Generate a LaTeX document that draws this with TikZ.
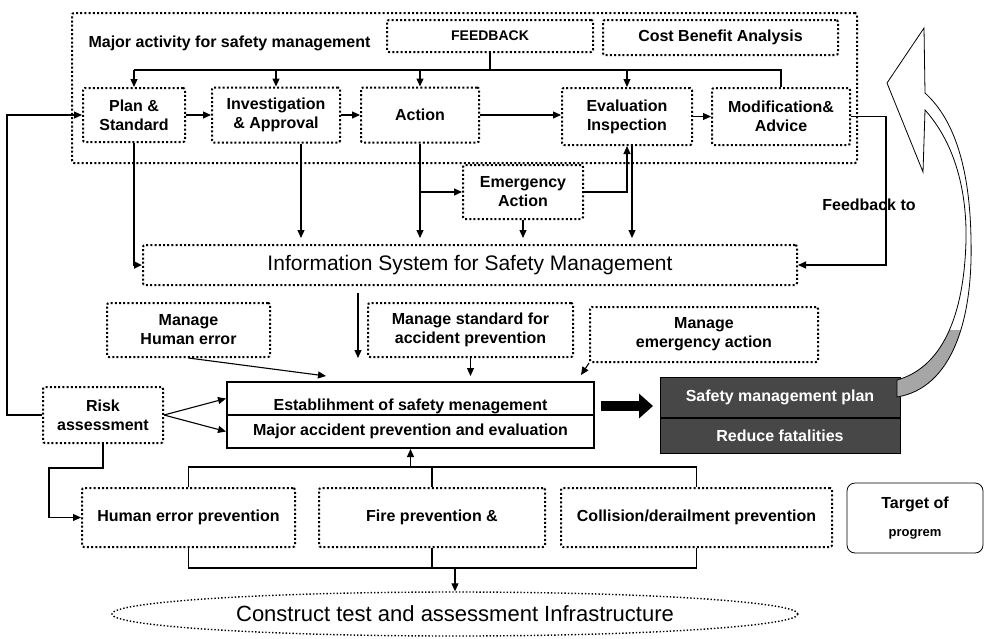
\documentclass[tikz,border=0pt]{standalone}
\usepackage{fontspec}
\setmainfont{Liberation Sans}
\setsansfont{Liberation Sans}
\usetikzlibrary{arrows.meta,positioning,calc,shapes.geometric}
\newcommand{\boxfont}{\fontsize{16}{19}\selectfont\bfseries}
\newcommand{\bigfont}{\fontsize{21}{24}\selectfont}

\begin{document}
\begin{tikzpicture}[x=1pt,y=-1pt,
  dbox/.style={draw,line width=2pt,dash pattern=on 2pt off 2.2pt,rounded corners=2pt,inner sep=0pt,align=center,font=\boxfont},
  cell/.style={draw,line width=2pt,inner sep=0pt,minimum width=367pt,minimum height=33pt,font=\boxfont},
  dcell/.style={draw=black,line width=1pt,fill=black!72,text=white,inner sep=0pt,minimum width=240pt,font=\boxfont},
  arr/.style={-{Triangle[length=8pt,width=7pt]},line width=1.1pt},
  bigarr/.style={-{Triangle[length=14pt,width=24pt]},line width=10pt},
]
  \useasboundingbox (0,0) rectangle (985,638);

  % Major activity frame
  \node[dbox,minimum width=785pt,minimum height=150pt] (frame) at (464.5,88) {};
  \node[font=\boxfont,anchor=west] (title) at (85,43) {Major activity for safety management};
  \node[dbox,minimum width=206pt,minimum height=32pt,font=\fontsize{14}{16}\selectfont\bfseries] (fb) at (490,36) {FEEDBACK};
  \node[dbox,minimum width=235pt,minimum height=35pt] (cba) at (720.5,37.5) {Cost Benefit Analysis};

  \node[dbox,minimum width=102pt,minimum height=54pt] (plan) at (134,115) {Plan \&\\Standard};
  \node[dbox,minimum width=128pt,minimum height=55pt,right=25pt of plan] (inv) {Investigation\\\& Approval};
  \node[dbox,minimum width=118pt,minimum height=55pt,right=19pt of inv] (act) {Action};
  \node[dbox,minimum width=130pt,minimum height=57pt] (eval) at (627,116.5) {Evaluation\\Inspection};
  \node[dbox,minimum width=138pt,minimum height=57pt,right=18pt of eval] (mod) {Modification\&\\Advice};
  \node[dbox,minimum width=120pt,minimum height=54pt] (emg) at (523,192) {Emergency\\Action};

  \node[dbox,minimum width=654pt,minimum height=40pt,font=\bigfont] (info) at (470,265) {Information System for Safety Management};

  \node[dbox,minimum width=163pt,minimum height=54pt] (mhe) at (188.5,330) {Manage\\Human error};
  \node[dbox,minimum width=205pt,minimum height=54pt] (mst) at (470.5,330) {Manage standard for\\accident prevention};
  \node[dbox,minimum width=228pt,minimum height=55pt] (mea) at (704,334.5) {Manage\\emergency action};

  \node[cell,text height=24pt,text depth=0pt] (est) at (410.5,398.5) {Establihment of safety menagement};
  \node[cell] (maj) at (410.5,431.5) {Major accident prevention and evaluation};
  \node[dbox,minimum width=120pt,minimum height=56pt] (risk) at (103,415) {Risk\\assessment};

  \node[dcell,minimum height=40pt] (smp) at (780,397) {Safety management plan};
  \node[dcell,minimum height=35pt,below=0pt of smp] (rf) {Reduce fatalities};

  \node[dbox,minimum width=213pt,minimum height=59pt] (hep) at (188.5,517.5) {Human error prevention};
  \node[dbox,minimum width=226pt,minimum height=59pt,right=22pt of hep] (fire) {Fire prevention \&};
  \node[dbox,minimum width=271pt,minimum height=59pt,right=14pt of fire] (col) {Collision/derailment prevention};
  \node[draw,line width=0.8pt,rounded corners=8pt,minimum width=136pt,minimum height=70pt,align=center,font=\boxfont] (tgt) at (915,518)
    {Target of\\[9pt]{\fontsize{13}{14}\selectfont progrem}};

  \node[ellipse,draw,line width=1.4pt,dash pattern=on 1.4pt off 2pt,minimum width=686pt,minimum height=44pt,inner sep=0pt,font=\fontsize{22}{24}\selectfont] (ell) at (455,614)
    {Construct test and assessment Infrastructure};

  % Feedback bracket over the activity row
  \coordinate (fbk) at (490,70);
  \draw[line width=2pt] (fb.south) -- (fbk);
  \draw[line width=2pt] (plan.north |- fbk) -- (mod.north |- fbk) -- (mod.north);
  \foreach \n in {plan,inv,act,eval}
    \draw[arr] (\n.north |- fbk) -- (\n.north);

  % Activity row
  \draw[arr] (plan.east) -- (inv.west);
  \draw[arr] (inv.east) -- (inv.east -| act.west);
  \draw[arr] (act.east) -- (act.east -| eval.west);
  \draw[arr] (eval.east) -- (mod.west);
  \draw[arr] (risk.west) -- ++(-35,0) |- (plan.west);

  % Into the information system
  \draw[arr,line width=2pt] (plan.south) |- (info.west);
  \coordinate (i1) at ($(inv.south)+(25,0)$);
  \draw[arr,shorten >=6pt] (i1) -- (i1 |- info.north);
  \draw[arr,shorten >=6pt] (act.south) -- (act.south |- info.north);
  \draw[arr] (act.south |- emg.west) -- (emg.west);
  \draw[arr,shorten >=6pt] (emg.south) -- (emg.south |- info.north);
  \draw[arr] (emg.east) -| (eval.south);
  \coordinate (e1) at ($(eval.south)+(5,0)$);
  \draw[arr,shorten >=6pt] (e1) -- (e1 |- info.north);
  \draw[arr] (mod.east) -- ++(35,0) |- (info.east);
  \node[font=\boxfont] (fbto) at (869,205) {Feedback to};

  % Towards the safety management block
  \coordinate (d1) at ($(info.south)+(-112,7)$);
  \draw[arr] (d1) -- ++(0,65);
  \draw[arr] (mhe.south) -- ($(est.north west)+(100,-5)$);
  \draw[arr] (mst.south) -- ++(0,18);
  \draw[arr] (mea.south west) -- ++(-8,12);
  \draw[arr] (risk.east) -- (est.west);
  \draw[arr] (risk.east) -- (maj.west);
  \draw[arr] (risk.south) -- ++(0,24) -- ++(-54,0) |- (hep.west);

  % Prevention row brackets
  \coordinate (tb) at (0,467);
  \coordinate (bb) at (0,568);
  \draw[line width=1.1pt] (hep.north) -- (hep.north |- tb) -- (col.north |- tb) -- (col.north);
  \draw[line width=1.1pt] (fire.north) -- (fire.north |- tb);
  \draw[arr] (maj.south |- tb) -- (maj.south);
  \draw[line width=1.1pt] (hep.south) -- (hep.south |- bb) -- (col.south |- bb) -- (col.south);
  \draw[line width=1.1pt] (fire.south) -- (fire.south |- bb);
  \draw[arr] (ell.north |- bb) -- (ell.north);

  % Result arrow and curved return arrow
  \draw[bigarr] ($(est.south east)+(6,-10)$) -- ++(52,0);
  \path[save path=\retpath]
    (924,28) -- (887,83) -- (923,172) -- (925,110)
    .. controls (952,140) and (967,185) .. (966,240)
    .. controls (964,320) and (940,368) .. (897,380)
    -- (897,397)
    .. controls (952,388) and (973,320) .. (971,240)
    .. controls (970,170) and (955,120) .. (925,93) -- cycle;
  \fill[white,use path=\retpath];
  \begin{scope}
    \clip (880,330) rectangle (985,400);
    \fill[black!35,use path=\retpath];
  \end{scope}
  \draw[line width=0.8pt,use path=\retpath];
\end{tikzpicture}
\end{document}
